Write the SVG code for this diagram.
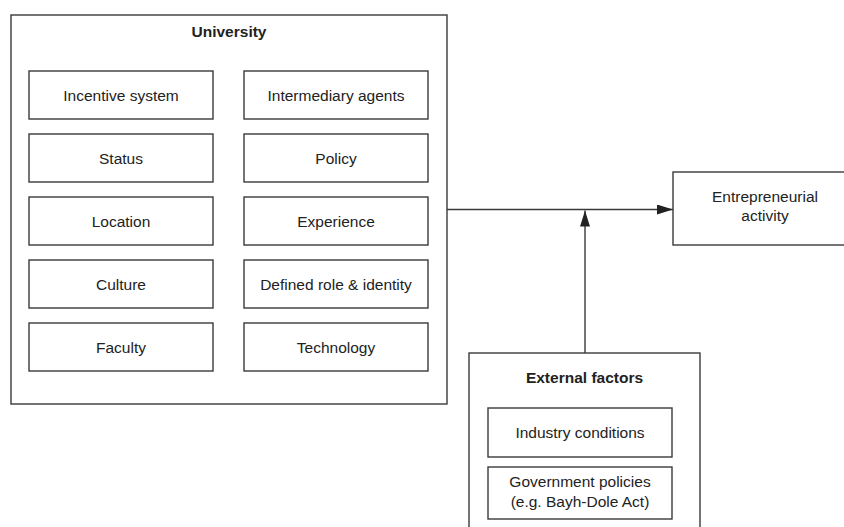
<svg xmlns="http://www.w3.org/2000/svg" width="844" height="527" viewBox="0 0 844 527">
<style>
.box{fill:#fff;stroke:#3a3a3a;stroke-width:1.4}
.t{font-family:"Liberation Sans",Arial,sans-serif;font-size:15.5px;fill:#222;text-anchor:middle}
.b{font-weight:bold}
.c{fill:none;stroke:#3a3a3a;stroke-width:1.4}
</style>
<defs>
<marker id="ah" markerWidth="16" markerHeight="10" refX="16" refY="5" orient="auto" markerUnits="userSpaceOnUse">
<path d="M0,0 L16,5 L0,10 Z" fill="#222"/>
</marker>
</defs>
<rect width="844" height="527" fill="#fff"/>
<g id="university">
<rect class="box" x="11" y="15" width="436" height="389"/>
<text class="t b" x="229" y="37">University</text>
</g>
<g id="incentive"><rect class="box" x="29" y="71" width="184" height="48"/><text class="t" x="121" y="100.5">Incentive system</text></g>
<g id="intermediary"><rect class="box" x="244" y="71" width="184" height="48"/><text class="t" x="336" y="100.5">Intermediary agents</text></g>
<g id="status"><rect class="box" x="29" y="134" width="184" height="48"/><text class="t" x="121" y="163.5">Status</text></g>
<g id="policy"><rect class="box" x="244" y="134" width="184" height="48"/><text class="t" x="336" y="163.5">Policy</text></g>
<g id="location"><rect class="box" x="29" y="197" width="184" height="48"/><text class="t" x="121" y="226.5">Location</text></g>
<g id="experience"><rect class="box" x="244" y="197" width="184" height="48"/><text class="t" x="336" y="226.5">Experience</text></g>
<g id="culture"><rect class="box" x="29" y="260" width="184" height="48"/><text class="t" x="121" y="289.5">Culture</text></g>
<g id="role"><rect class="box" x="244" y="260" width="184" height="48"/><text class="t" x="336" y="289.5">Defined role &amp; identity</text></g>
<g id="faculty"><rect class="box" x="29" y="323" width="184" height="48"/><text class="t" x="121" y="352.5">Faculty</text></g>
<g id="technology"><rect class="box" x="244" y="323" width="184" height="48"/><text class="t" x="336" y="352.5">Technology</text></g>
<g id="entrepreneurial">
<rect class="box" x="673" y="172" width="180" height="73"/>
<text class="t" x="765" y="202">Entrepreneurial</text>
<text class="t" x="765" y="221">activity</text>
</g>
<g id="external">
<rect class="box" x="469" y="353" width="231" height="185"/>
<text class="t b" x="584.5" y="383">External factors</text>
</g>
<g id="industry"><rect class="box" x="488" y="408" width="184" height="49"/><text class="t" x="580" y="438">Industry conditions</text></g>
<g id="government"><rect class="box" x="488" y="467" width="184" height="52"/>
<text class="t" x="580" y="487">Government policies</text>
<text class="t" x="580" y="507">(e.g. Bayh-Dole Act)</text>
</g>
<g id="connectors">
<line class="c" x1="447" y1="209.5" x2="673" y2="209.5" marker-end="url(#ah)"/>
<line class="c" x1="585" y1="353" x2="585" y2="210.5" marker-end="url(#ah)"/>
</g>
</svg>
